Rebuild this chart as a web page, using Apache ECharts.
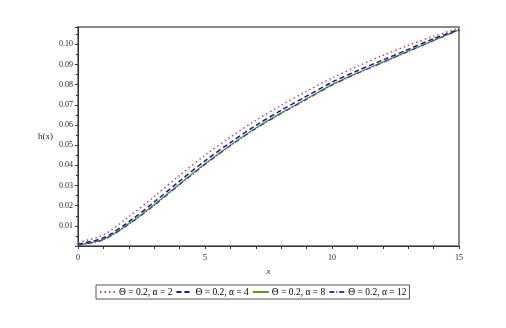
<!DOCTYPE html>
<html>
<head>
<meta charset="utf-8">
<script src="https://cdn.jsdelivr.net/npm/echarts@6/dist/echarts.min.js"></script>
<style>html,body{margin:0;padding:0;background:#fff}#c{width:506px;height:328px}</style>
</head>
<body>
<div id="c"></div>
<script>
var xValues = [0,1,2,3,4,5,6,7,8,9,10,11,12,13,14,15];
var seriesNames = ['Θ = 0.2, α = 2','Θ = 0.2, α = 4','Θ = 0.2, α = 8','Θ = 0.2, α = 12'];
var hAlpha2 = [0.0018,0.0055,0.0145,0.0245,0.0350,0.0450,0.0540,0.0623,0.0698,0.0767,0.0833,0.0891,0.0945,0.0995,0.1040,0.1080];
var hAlpha4 = [0.0010,0.0040,0.0120,0.0218,0.0322,0.0422,0.0513,0.0598,0.0673,0.0743,0.0812,0.0869,0.0922,0.0975,0.1028,0.1074];
var hAlpha8 = [0.0006,0.0033,0.0110,0.0205,0.0308,0.0408,0.0500,0.0585,0.0660,0.0730,0.0800,0.0858,0.0912,0.0966,0.1020,0.1072];
var hAlpha12 = [0.0005,0.0031,0.0107,0.0201,0.0304,0.0404,0.0497,0.0582,0.0657,0.0727,0.0797,0.0856,0.0910,0.0964,0.1018,0.1071];

function pairs(ys){ return xValues.map(function(x,i){ return [x, ys[i]]; }); }

var font = 'Liberation Serif';
var chart = echarts.init(document.getElementById('c'), null, {renderer:'canvas'});
chart.setOption({
  animation:false,
  backgroundColor:'#fff',
  grid:{left:78,right:47,top:27,bottom:82,show:true,borderColor:'#8a8a8a',borderWidth:2,backgroundColor:'#fff'},
  legend:{
    left:96, top:285,
    data:seriesNames,
    itemWidth:16, itemHeight:8, itemGap:3,
    padding:[2,3,2,3],
    borderColor:'#555', borderWidth:1,
    itemStyle:{opacity:0},
    textStyle:{fontFamily:font,fontSize:9.5,color:'#000',padding:[0,0,0,-2]}
  },
  xAxis:{
    type:'value', min:0, max:15, interval:1,
    name:'x', nameLocation:'middle', nameGap:21,
    nameTextStyle:{fontFamily:font,fontStyle:'italic',fontSize:9,color:'#222'},
    axisLine:{show:true,onZero:false,lineStyle:{color:'#333',width:1}},
    axisTick:{show:true,length:3,lineStyle:{color:'#333'}},
    axisLabel:{fontFamily:font,fontSize:8,color:'#222',margin:8,
      formatter:function(v){ return (v % 5 === 0) ? String(v) : ''; }},
    splitLine:{show:false}
  },
  yAxis:{
    type:'value', min:0, max:0.1086, interval:0.01,
    name:'h(x)', nameLocation:'middle', nameGap:25, nameRotate:0,
    nameTextStyle:{fontFamily:font,fontSize:9,color:'#222'},
    axisLine:{show:true,onZero:false,lineStyle:{color:'#333',width:1}},
    axisTick:{show:true,length:3,lineStyle:{color:'#333'}},
    minorTick:{show:true,splitNumber:2,length:2,lineStyle:{color:'#333'}},
    axisLabel:{fontFamily:font,fontSize:8,color:'#222',margin:5,
      formatter:function(v){ return (v < 0.005 || v > 0.105) ? '' : v.toFixed(2); }},
    splitLine:{show:false}
  },
  series:[
    {name:seriesNames[0],type:'line',data:pairs(hAlpha2),symbol:'none',smooth:0.3,
     lineStyle:{color:'#c8464b',width:1.5,type:[1.5,3]},itemStyle:{color:'#c8464b'},z:4},
    {name:seriesNames[1],type:'line',data:pairs(hAlpha4),symbol:'none',smooth:0.3,
     lineStyle:{color:'#1c1c8c',width:1.5,type:[5,3]},itemStyle:{color:'#1c1c8c'},z:3},
    {name:seriesNames[2],type:'line',data:pairs(hAlpha8),symbol:'none',smooth:0.3,
     lineStyle:{color:'#5e9a22',width:1.3,type:'solid'},itemStyle:{color:'#5e9a22'},z:2},
    {name:seriesNames[3],type:'line',data:pairs(hAlpha12),symbol:'none',smooth:0.3,
     lineStyle:{color:'#3a3ab8',width:1.2,type:[5,2,1,2]},itemStyle:{color:'#3a3ab8'},z:5}
  ]
});
</script>
</body>
</html>
